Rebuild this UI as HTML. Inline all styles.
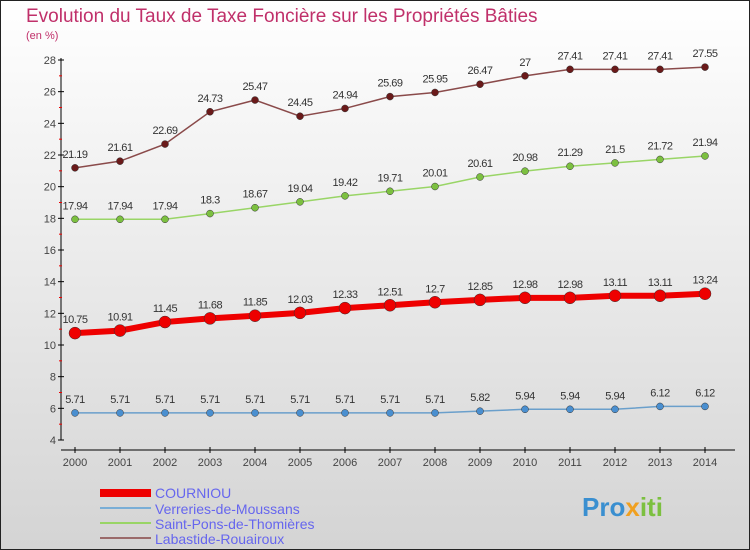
<!DOCTYPE html>
<html><head><meta charset="utf-8"><style>
body{margin:0}
svg{display:block;font-family:"Liberation Sans",sans-serif}
</style></head><body>
<svg id="c" width="750" height="550">
<defs><linearGradient id="bg" x1="0" y1="0" x2="0" y2="1"><stop offset="0" stop-color="#ffffff"/><stop offset="1" stop-color="#d4d4d4"/></linearGradient></defs>
<rect x="0.5" y="0.5" width="749" height="549" fill="url(#bg)" stroke="#222"/>
<text x="26" y="22" font-size="19" fill="#c0306a">Evolution du Taux de Taxe Foncière sur les Propriétés Bâties</text>
<text x="26" y="39" font-size="11" fill="#c0306a">(en %)</text>
<g id="axes"></g><g id="series"></g>
<g>
<rect x="100" y="489" width="51" height="8" fill="#e00"/>
<text x="155" y="498" font-size="14" fill="#6666ee">COURNIOU</text>
<rect x="100" y="507" width="51" height="2" fill="#7aaed6"/>
<text x="155" y="514" font-size="14" fill="#6666ee">Verreries-de-Moussans</text>
<rect x="100" y="522" width="51" height="2" fill="#99d566"/>
<text x="155" y="529" font-size="14" fill="#6666ee">Saint-Pons-de-Thomières</text>
<rect x="100" y="537" width="51" height="2" fill="#9a6a6a"/>
<text x="155" y="544" font-size="14" fill="#6666ee">Labastide-Rouairoux</text>
</g>
<g><text x="582" y="516" font-size="26" font-weight="bold" fill="#3a8fd0">Pro<tspan fill="#f0a020">x</tspan><tspan fill="#7cc040">iti</tspan></text></g>
</svg>
<script>
const years=[2000,2001,2002,2003,2004,2005,2006,2007,2008,2009,2010,2011,2012,2013,2014];
const yTicks=[4,6,8,10,12,14,16,18,20,22,24,26,28];
const courniou=[10.75,10.91,11.45,11.68,11.85,12.03,12.33,12.51,12.7,12.85,12.98,12.98,13.11,13.11,13.24];
const verreries=[5.71,5.71,5.71,5.71,5.71,5.71,5.71,5.71,5.71,5.82,5.94,5.94,5.94,6.12,6.12];
const saintPons=[17.94,17.94,17.94,18.3,18.67,19.04,19.42,19.71,20.01,20.61,20.98,21.29,21.5,21.72,21.94];
const labastide=[21.19,21.61,22.69,24.73,25.47,24.45,24.94,25.69,25.95,26.47,27,27.41,27.41,27.41,27.55];
const NS="http://www.w3.org/2000/svg";
const xS=i=>75+i*45;
const yS=v=>440-(v-4)*(380/24);
function mk(t,a,p){const e=document.createElementNS(NS,t);for(const k in a)e.setAttribute(k,a[k]);p.appendChild(e);return e;}
const ax=document.getElementById('axes');
let e=mk('line',{x1:61,y1:58,x2:61,y2:440,stroke:'#000'},ax);


e=mk('line',{x1:61,y1:450,x2:735,y2:450,stroke:'#000'},ax);


yTicks.forEach((v,i)=>{const y=yS(v);
 mk('line',{x1:58,y1:y,x2:64,y2:y,stroke:'#000'},ax);
 if(i<yTicks.length-1)mk('line',{x1:59,y1:y-380/24,x2:62,y2:y-380/24,stroke:'#e00'},ax);
 const t=mk('text',{x:56,y:y+4,'font-size':11,fill:'#444','text-anchor':'end'},ax);t.textContent=v;
 
 });
years.forEach((yr,i)=>{const x=xS(i);
 mk('line',{x1:x,y1:447,x2:x,y2:453,stroke:'#000'},ax);
 const t=mk('text',{x:x,y:466,'font-size':11,fill:'#444','text-anchor':'middle'},ax);t.textContent=yr;
 
 });
const sg=document.getElementById('series');
function series(d,name,col,dot,w,r,labels){
 const g=mk('g',{},sg);
 
 
 const p=mk('polyline',{points:d.map((v,i)=>xS(i)+','+yS(v)).join(' '),fill:'none',stroke:col,'stroke-width':w},g);
 
 
 d.forEach((v,i)=>{const c=mk('circle',{cx:xS(i),cy:yS(v),r:r,fill:dot,stroke:'#333','stroke-width':0.5},g);
  
  
  if(labels){const t=mk('text',{x:xS(i),y:yS(v)-10,'font-size':11,fill:'#333','text-anchor':'middle','letter-spacing':'-0.5'},g);t.textContent=v;
  
  }});
}
series(verreries,'verreries','#6a9fcb','#4a8fd0',1.5,3.5,true);
series(saintPons,'saint-pons','#99d566','#7cc040',1.5,3.5,true);
series(labastide,'labastide','#8a4a4a','#6a1a1a',1.5,3.5,true);
series(courniou,'courniou','#e00','#e00',6,6,true);
</script>
</body></html>
